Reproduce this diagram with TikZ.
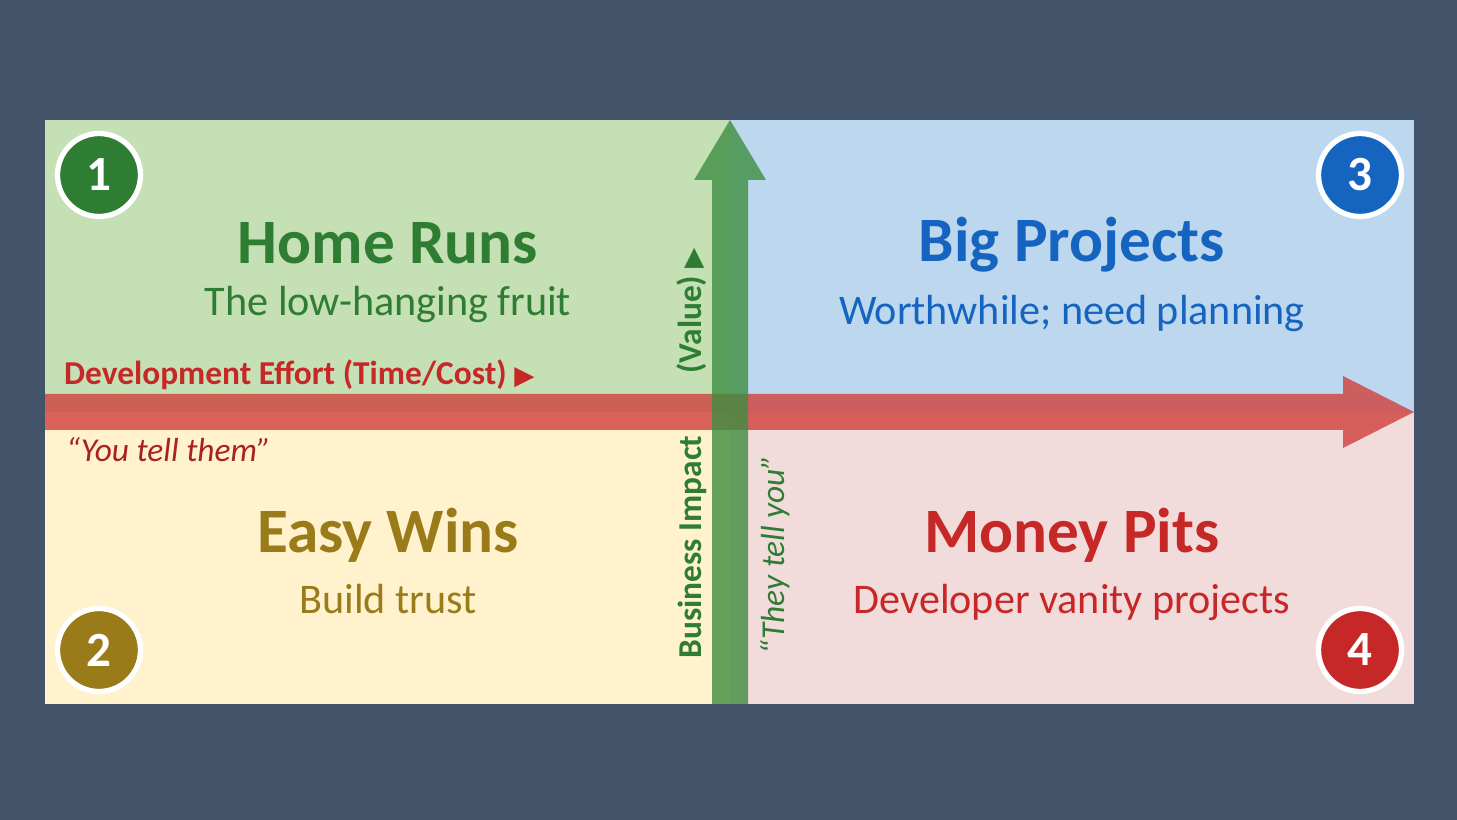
\documentclass[tikz,border=0pt]{standalone}
\usepackage{fontspec}
\setmainfont{Carlito}
\newfontfamily\symfont{DejaVu Sans}
\usetikzlibrary{positioning}
\definecolor{bgblue}{HTML}{435369}
\definecolor{qgreen}{HTML}{C5E0B4}
\definecolor{qblue}{HTML}{BDD7EE}
\definecolor{qyellow}{HTML}{FFF2CC}
\definecolor{qpink}{HTML}{F2DCDB}
\definecolor{tgreen}{HTML}{2E7D32}
\definecolor{tblue}{HTML}{1565C0}
\definecolor{tolive}{HTML}{9A7B1A}
\definecolor{tred}{HTML}{C62828}
\definecolor{axred}{HTML}{D0403C}
\definecolor{axgreen}{HTML}{3E8E41}
\newcommand{\tri}{{\fontsize{15}{18}\selectfont\mdseries\symfont ▶}}
\tikzset{
  badge/.style={circle,draw=white,line width=3pt,minimum size=1.66cm,text=white,font=\fontsize{28}{30}\selectfont\bfseries},
  title/.style={font=\fontsize{36}{40}\selectfont\bfseries},
  sub/.style={font=\fontsize{24}{28}\selectfont},
  axlabel/.style={font=\fontsize{19}{22}\selectfont\bfseries},
  quote/.style={font=\fontsize{19}{22}\selectfont\itshape}
}
\begin{document}
\begin{tikzpicture}[x=0.02cm,y=-0.02cm]
  \fill[bgblue] (0,0) rectangle (1457,820);
  \useasboundingbox (0,0) rectangle (1457,820);
  %quadrants
  \fill[qgreen] (45,120) rectangle (730,412);
  \fill[qblue] (730,120) rectangle (1414,412);
  \fill[qyellow] (45,412) rectangle (730,704);
  \fill[qpink] (730,412) rectangle (1414,704);
  %axes
  \fill[axred,opacity=0.8] (45,394) -- (1343,394) -- (1343,376) -- (1414,412) -- (1343,448) -- (1343,430) -- (45,430) -- cycle;
  \fill[axgreen,opacity=0.8] (712,704) -- (712,180) -- (694,180) -- (730,120) -- (766,180) -- (748,180) -- (748,704) -- cycle;
  %badges
  \node[badge,fill=tgreen] (b1) at (99,175) {1};
  \node[badge,fill=tolive] (b2) at (99,650) {2};
  \node[badge,fill=tblue] (b3) at (1360,175) {3};
  \node[badge,fill=tred] (b4) at (1360,650) {4};
  %texts
  \node[title,text=tgreen] (hr) at (388,243) {Home Runs};
  \node[sub,text=tgreen,below=0.2cm of hr] (hrs) {The low-hanging fruit};
  \node[title,text=tblue] (bp) at (1072,245) {Big Projects};
  \node[sub,text=tblue,below=0.2cm of bp] (bps) {Worthwhile; need planning};
  \node[title,text=tolive] (ew) at (388,535) {Easy Wins};
  \node[sub,text=tolive,below=0.2cm of ew] (ews) {Build trust};
  \node[title,text=tred] (mp) at (1072,535) {Money Pits};
  \node[sub,text=tred,below=0.2cm of mp] (mps) {Developer vanity projects};
  \node[axlabel,text=tred,anchor=west] (dev) at (58,375) {Development Effort (Time/Cost) \tri};
  \node[quote,text=tred!85!black,anchor=west] (ytt) at (60,450) {“You tell them”};
  \node[axlabel,text=tgreen,rotate=90] (bi) at (692,547) {Business Impact};
  \node[axlabel,text=tgreen,rotate=90,anchor=west] (val) at (692,380) {(Value) \tri};
  \node[quote,text=tgreen,rotate=90] (tty) at (775,555) {“They tell you”};
\end{tikzpicture}
\end{document}
